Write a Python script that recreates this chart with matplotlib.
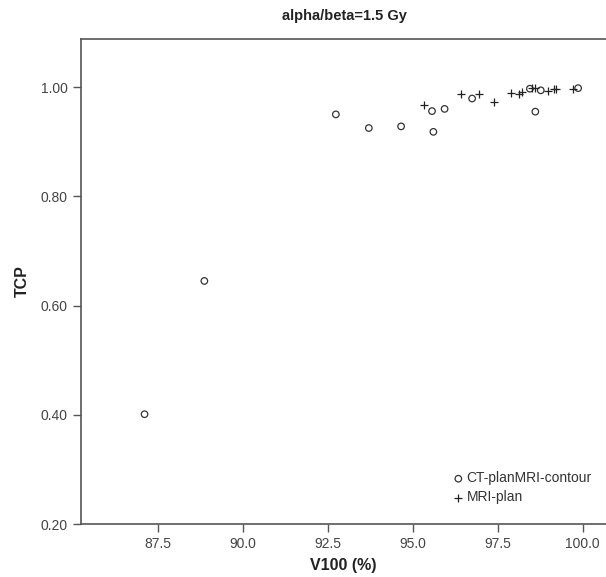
import matplotlib
matplotlib.use("Agg")
import matplotlib.pyplot as plt

plt.rcParams["font.family"] = ["Liberation Sans", "DejaVu Sans"]

# CT-plan / MRI-contour group (circles)
ct_v100 = [87.11, 88.87, 92.74, 93.71, 94.66, 95.57, 95.61, 95.94, 96.75,
           98.45, 98.61, 98.77, 99.87]
ct_tcp = [0.401, 0.645, 0.950, 0.925, 0.928, 0.956, 0.918, 0.960, 0.979,
          0.997, 0.955, 0.994, 0.998]

# MRI-plan group (plus)
mri_v100 = [95.33, 96.42, 96.94, 97.40, 97.89, 98.12, 98.21, 98.51, 98.59,
            98.99, 99.16, 99.22, 99.71]
mri_tcp = [0.968, 0.987, 0.987, 0.972, 0.990, 0.987, 0.991, 0.998, 0.998,
           0.993, 0.996, 0.997, 0.997]

xticks = [87.5, 90.0, 92.5, 95.0, 97.5, 100.0]
yticks = [0.20, 0.40, 0.60, 0.80, 1.00]

grey = "#555555"
fig = plt.figure(figsize=(6.06, 5.77), dpi=100)
ax = fig.add_axes([81 / 606, 1 - 524 / 577, 1 - 81 / 606, (524 - 39) / 577])

ax.scatter(ct_v100, ct_tcp, marker="o", s=22, facecolors="none",
           edgecolors="#333333", linewidths=0.9, label="CT-planMRI-contour")
ax.scatter(mri_v100, mri_tcp, marker="+", s=40, color="#222222",
           linewidths=0.9, label="MRI-plan")

ax.set_xlim(85.24, 100.69)
ax.set_ylim(0.20, 1.088)
ax.set_xticks(xticks)
ax.set_xticklabels(["%.1f" % v for v in xticks])
ax.set_yticks(yticks)
ax.set_yticklabels(["%.2f" % v for v in yticks])

for side in ["left", "top", "bottom"]:
    ax.spines[side].set_color(grey)
    ax.spines[side].set_linewidth(1.2)
ax.spines["right"].set_visible(False)
ax.tick_params(colors=grey, labelcolor="#444444", labelsize=10, length=6,
               width=1.0, direction="out")

ax.set_title("alpha/beta=1.5 Gy", fontsize=10.5, fontweight="bold",
             color="#222222", pad=14, x=(344 - 81) / (606 - 81))
ax.set_xlabel("V100 (%)", fontsize=11.5, fontweight="bold", color="#222222",
              labelpad=5)
ax.set_ylabel("TCP", fontsize=11.5, fontweight="bold", color="#222222",
              labelpad=8)

ax.legend(loc="lower right", bbox_to_anchor=(0.997, 0.015), frameon=False,
          fontsize=10, handletextpad=0.1, labelspacing=0.35,
          handlelength=1.0, labelcolor="#333333")

fig.savefig("out.png", dpi=100)
